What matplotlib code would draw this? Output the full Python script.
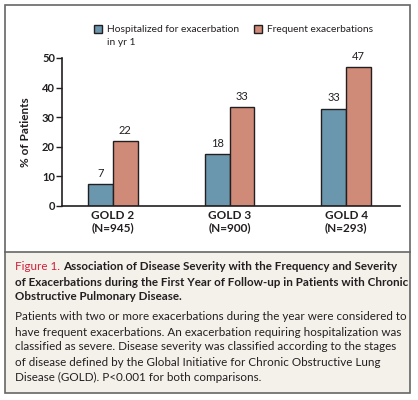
import matplotlib
matplotlib.use('Agg')
import matplotlib.pyplot as plt
from matplotlib.patches import Rectangle
import numpy as np

matplotlib.rcParams['font.family'] = ['Lato', 'DejaVu Sans']

W, H = 418, 400

groups = ['GOLD 2\n(N=945)', 'GOLD 3\n(N=900)', 'GOLD 4\n(N=293)']
hospitalized = [7.4, 17.6, 32.9]
frequent = [21.9, 33.3, 47.0]
hosp_labels = ['7', '18', '33']
freq_labels = ['22', '33', '47']
series_names = ['Hospitalized for exacerbation\nin yr 1', 'Frequent exacerbations']

BLUE = '#6a97ad'
RED = '#cf8b78'
EDGE = '#231f20'
TXT = '#231f20'
CAP = 8.4


def px(x, y):
    # pixel (from top-left) to figure fraction
    return x / W, 1 - y / H


fig = plt.figure(figsize=(W / 100, H / 100), dpi=100)

# frame and caption background
fig.patches.append(Rectangle(px(5, 393), 405 / W, 141 / H, transform=fig.transFigure,
                             facecolor='#f4f1eb', edgecolor='none', zorder=0))
fig.patches.append(Rectangle(px(5, 393), 405 / W, 388 / H, transform=fig.transFigure,
                             facecolor='none', edgecolor='#666666', linewidth=1.2, zorder=1))
fig.add_artist(plt.Line2D([5 / W, 410 / W], [1 - 252 / H] * 2, transform=fig.transFigure,
                          color='#666666', linewidth=1.2))

ax = fig.add_axes([62 / W, 1 - 206 / H, 338 / W, 148 / H])
ax.patch.set_alpha(0)

x = np.arange(len(groups))
bw = 25 / 117
b1 = ax.bar(x - bw / 2, hospitalized, bw, color=BLUE, edgecolor=EDGE, linewidth=1)
b2 = ax.bar(x + bw / 2, frequent, bw, color=RED, edgecolor=EDGE, linewidth=1)

for bars, labels in [(b1, hosp_labels), (b2, freq_labels)]:
    for rect, lab in zip(bars, labels):
        ax.text(rect.get_x() + rect.get_width() / 2, rect.get_height() + 1.8, lab,
                ha='center', va='bottom', fontsize=8, color=TXT)

ax.set_xlim(-51 / 117, 288 / 117)
ax.set_ylim(0, 50)
ax.set_yticks([0, 10, 20, 30, 40, 50])
ax.set_xticks(x)
ax.set_xticklabels(groups, fontsize=8.5, fontweight='bold', color=TXT, linespacing=1.1)
ax.tick_params(axis='x', length=0, pad=3)
ax.tick_params(axis='y', length=4, width=1, labelsize=8, colors=TXT, pad=1)
for t in ax.get_yticklabels():
    t.set_fontweight('bold')
for s in ['top', 'right']:
    ax.spines[s].set_visible(False)
for s in ['left', 'bottom']:
    ax.spines[s].set_linewidth(1.2)
    ax.spines[s].set_color(EDGE)
ax.set_ylabel('% of Patients', fontsize=8.5, fontweight='bold', color=TXT, labelpad=8)

# legend
fig.patches.append(Rectangle(px(94, 33), 8 / W, 8 / H, transform=fig.transFigure,
                             facecolor=BLUE, edgecolor=EDGE, linewidth=1))
fig.text(*px(107, 36), series_names[0], fontsize=7.4, color=TXT, va='center',
         linespacing=1.45)
fig.patches.append(Rectangle(px(254, 33), 8 / W, 8 / H, transform=fig.transFigure,
                             facecolor=RED, edgecolor=EDGE, linewidth=1))
fig.text(*px(267, 29), series_names[1], fontsize=7.4, color=TXT, va='center')

# caption
t1 = fig.text(*px(15, 267), 'Figure 1.', fontsize=CAP, color='#d0203a', va='center')
fig.canvas.draw()
x_after = t1.get_window_extent().x1 / W + 3 / W
fig.text(x_after, 1 - 267 / H, 'Association of Disease Severity with the Frequency and Severity',
         fontsize=CAP, fontweight='bold', color=TXT, va='center')
fig.text(*px(15, 282), 'of Exacerbations during the First Year of Follow-up in Patients with Chronic',
         fontsize=CAP, fontweight='bold', color=TXT, va='center')
fig.text(*px(15, 297), 'Obstructive Pulmonary Disease.',
         fontsize=CAP, fontweight='bold', color=TXT, va='center')
body = ['Patients with two or more exacerbations during the year were considered to',
        'have frequent exacerbations. An exacerbation requiring hospitalization was',
        'classified as severe. Disease severity was classified according to the stages',
        'of disease defined by the Global Initiative for Chronic Obstructive Lung',
        'Disease (GOLD). P<0.001 for both comparisons.']
for i, line in enumerate(body):
    fig.text(*px(15, 317 + 15 * i), line, fontsize=CAP, color=TXT, va='center')

plt.savefig('out.png', dpi=100, facecolor='white')
